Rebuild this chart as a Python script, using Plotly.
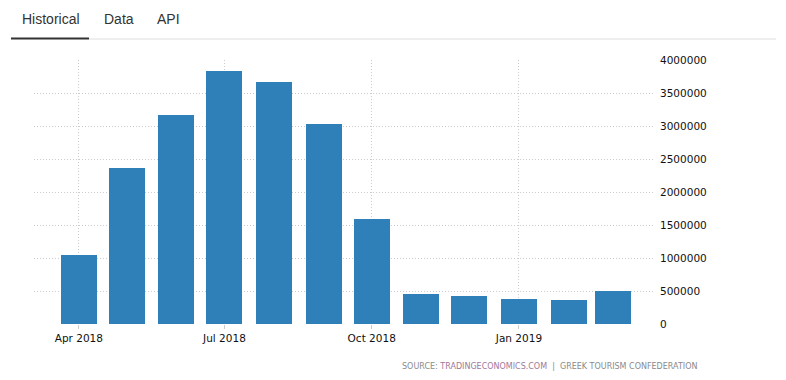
import plotly.graph_objects as go

months = ["2018-04-01", "2018-05-01", "2018-06-01", "2018-07-01", "2018-08-01", "2018-09-01",
          "2018-10-01", "2018-11-01", "2018-12-01", "2019-01-01", "2019-02-01", "2019-03-01"]
arrivals = [1050000, 2368000, 3171000, 3838000, 3671000, 3035000,
            1595000, 459000, 429000, 383000, 368000, 505000]
tick_dates = ["2018-04-01", "2018-07-01", "2018-10-01", "2019-01-01"]
tick_labels = ["Apr 2018", "Jul 2018", "Oct 2018", "Jan 2019"]
y_ticks = [0, 500000, 1000000, 1500000, 2000000, 2500000, 3000000, 3500000, 4000000]
tabs = ["Historical", "Data", "API"]

OFF = 8  # page body margin
W, H = 786 - OFF, 380 - OFF
L, R, T, B = 34 - OFF, 655 - OFF, 60 - OFF, 324 - OFF  # plot area in pixels (figure coords)


def px(x):
    return (x - OFF - L) / (R - L)


def py(y):
    return (B - (y - OFF)) / (B - T)


fig = go.Figure()
fig.add_trace(go.Bar(
    x=months, y=arrivals,
    marker=dict(color="#2f7fb9", line=dict(width=0)),
    width=22.5 * 86400000,
    hoverinfo="x+y",
))

grid = dict(showgrid=True, gridcolor="#cccccc", griddash="1px,2px", gridwidth=1)
tickfont = dict(family="DejaVu Sans", size=10.5, color="#111111")

fig.update_layout(
    width=W, height=H,
    margin=dict(l=L, r=W - R, t=T, b=H - B),
    paper_bgcolor="white", plot_bgcolor="white",
    showlegend=False,
    bargap=0,
    font=dict(family="DejaVu Sans", size=10.5, color="#111111"),
    xaxis=dict(
        type="date",
        range=["2018-03-04", "2019-03-27"],
        tickmode="array", tickvals=tick_dates, ticktext=tick_labels,
        ticks="outside", ticklen=4, tickcolor="#cccccc",
        showline=False, zeroline=False,
        tickfont=tickfont,
        **grid,
    ),
    yaxis=dict(
        side="right",
        range=[0, 4000000],
        tickmode="array", tickvals=y_ticks, ticktext=[str(v) for v in y_ticks],
        ticks="", showline=False, zeroline=False,
        ticklabelstandoff=4,
        tickfont=tickfont,
        **grid,
    ),
)

# tabs header
tab_x = [20, 102, 155]
for name, x0 in zip(tabs, tab_x):
    fig.add_annotation(
        text=name, xref="paper", yref="paper", x=px(x0), y=py(19),
        xanchor="left", yanchor="middle", showarrow=False,
        font=dict(family="Liberation Sans", size=14, color="#333333"),
    )
fig.add_shape(type="line", xref="paper", yref="paper",
              x0=px(89), x1=px(776), y0=py(39), y1=py(39),
              line=dict(color="#dddddd", width=1))
fig.add_shape(type="line", xref="paper", yref="paper",
              x0=px(11), x1=px(89), y0=py(38.5), y1=py(38.5),
              line=dict(color="#333333", width=2))

# source
fig.add_annotation(
    text="SOURCE: <span style='color:#a0789a'>TRADINGECONOMICS.COM</span>  |  GREEK TOURISM CONFEDERATION",
    xref="paper", yref="paper", x=px(699), y=py(366),
    xanchor="right", yanchor="middle", showarrow=False,
    font=dict(family="DejaVu Sans", size=8, color="#8a8a8a"),
)

fig.write_html("out.html")
